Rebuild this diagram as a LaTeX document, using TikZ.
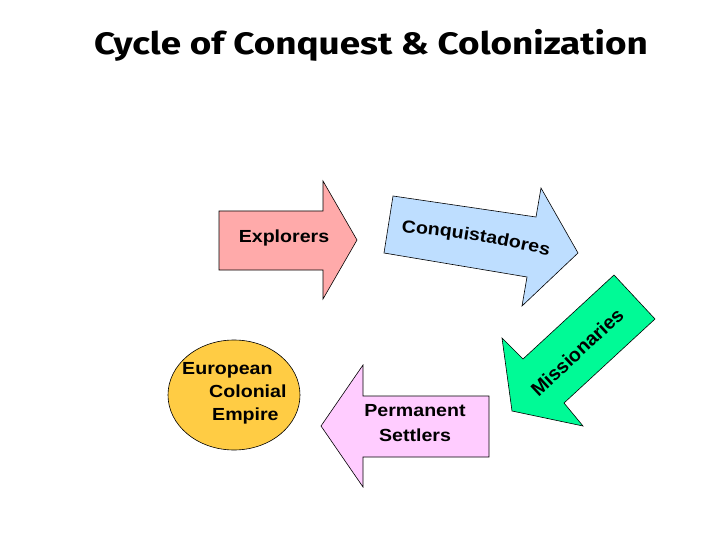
\documentclass[tikz,border=0pt]{standalone}
\usepackage{fontspec}
\usetikzlibrary{decorations.text}
\newfontfamily\labfont[FakeStretch=1.12]{Liberation Sans}
\newfontfamily\misfont{Liberation Sans}
\newfontfamily\titlefont[FakeStretch=1.19]{Fira Sans}
\definecolor{explpink}{RGB}{255,170,170}
\definecolor{conqblue}{RGB}{190,222,255}
\definecolor{missgreen}{RGB}{0,250,150}
\definecolor{settpink}{RGB}{255,204,255}
\definecolor{empgold}{RGB}{255,204,68}
\begin{document}
\begin{tikzpicture}[x=1pt,y=-1pt,
  shapeline/.style={draw=black,line width=0.6pt},
  lbl/.style={font=\labfont\bfseries\fontsize{17.5}{25}\selectfont, inner sep=0pt}]
\useasboundingbox[fill=white] (0,0) rectangle (720,540);
\node[font=\titlefont\bfseries\fontsize{31}{36}\selectfont, anchor=base, inner sep=0pt] (title) at (371,55) {Cycle of Conquest \& Colonization};
% Explorers
\draw[shapeline, fill=explpink] (219,211) -- (323,211) -- (323,181) -- (357,240) -- (323,299) -- (323,270) -- (219,270) -- cycle;
\node[lbl] (explorers) at (284,238) {Explorers};
% Conquistadores
\draw[shapeline, fill=conqblue] (393,196) -- (536,217) -- (541,188) -- (578,253) -- (522,306) -- (527,277) -- (384,253) -- cycle;
\path[decorate, decoration={text along path, text align=center,
  text={|\labfont\bfseries\fontsize{17.5}{21}\selectfont|Conquistadores}}]
  (401,232) .. controls (450,236) and (500,244) .. (549,256);
% Missionaries
\draw[shapeline, fill=missgreen] (614,275) -- (655,319) -- (564,403) -- (583,426) -- (512,411) -- (502,338) -- (523,359) -- cycle;
\node[lbl, font=\misfont\bfseries\fontsize{19.5}{23}\selectfont, rotate=43] (missionaries) at (577,352) {Missionaries};
% Permanent Settlers
\draw[shapeline, fill=settpink] (489,396) -- (363,396) -- (363,365) -- (321,426) -- (363,487) -- (363,457) -- (489,457) -- cycle;
\node[lbl, align=center] (settlers) at (415,423) {Permanent\\Settlers};
% European Colonial Empire
\draw[shapeline, fill=empgold] (234,395) ellipse [x radius=66, y radius=55];
\node[lbl, font=\labfont\bfseries\fontsize{17.5}{23}\selectfont, align=left, anchor=north west] (empire) at (182,362) {European\\\hspace*{27pt}Colonial\\\hspace*{30pt}Empire};
\end{tikzpicture}
\end{document}
